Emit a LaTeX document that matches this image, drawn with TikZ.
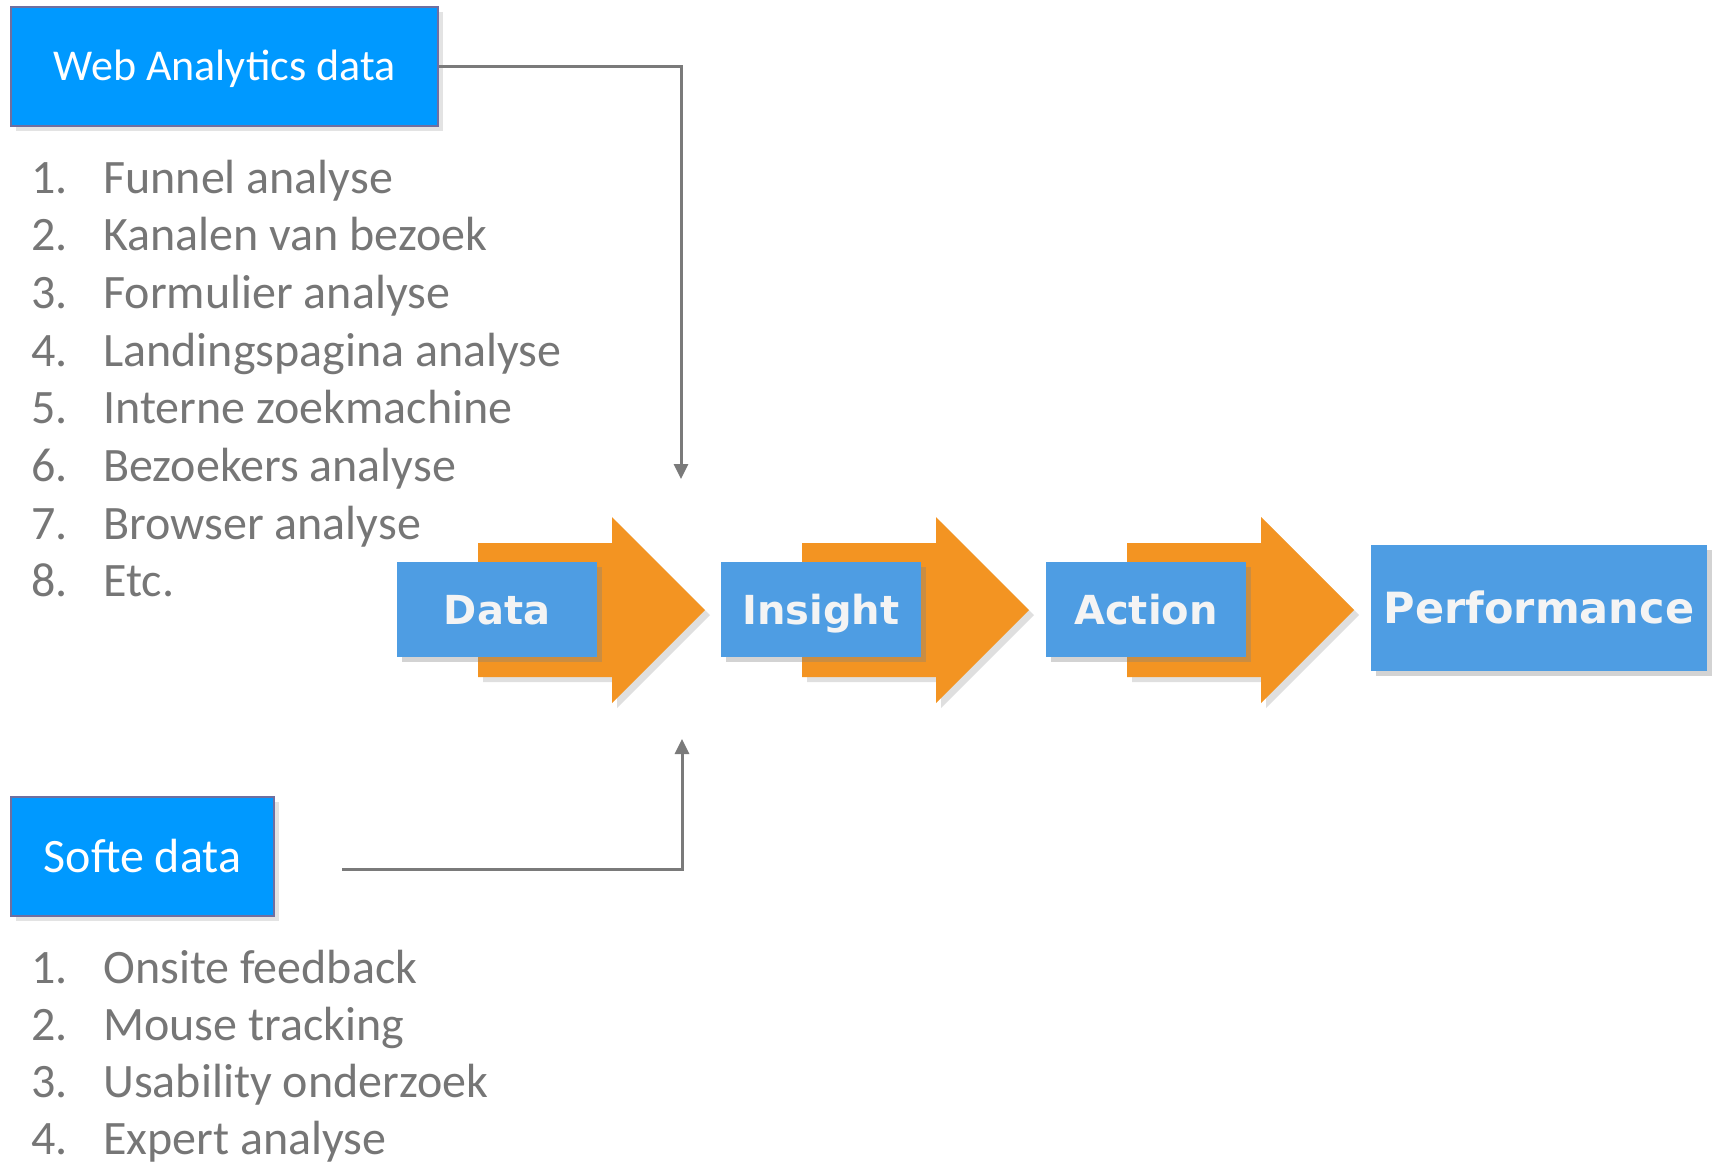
\documentclass[tikz,border=0pt]{standalone}
\usepackage{fontspec}
\setmainfont{Carlito}
\newfontfamily\procfont{DejaVu Sans}
\usetikzlibrary{shadows,arrows.meta}
\definecolor{hdrblue}{HTML}{0099FF}
\definecolor{hdrline}{HTML}{6F6FA0}
\definecolor{procblue}{HTML}{4E9DE3}
\definecolor{procorange}{HTML}{F39422}
\definecolor{txtgray}{HTML}{767676}
\definecolor{lnkgray}{HTML}{7A7A7A}
\definecolor{proctext}{HTML}{F4F4F4}
\begin{document}
\begin{tikzpicture}[x=0.5pt,y=-0.5pt,
  hdr/.style={draw=hdrline, line width=0.8pt, fill=hdrblue, text=white,
    inner sep=0pt, text depth=0pt,
    drop shadow={opacity=0.22, shadow xshift=2.5pt, shadow yshift=-2.5pt}},
  procbox/.style={fill=procblue, text=proctext, inner sep=0pt, text depth=0pt,
    drop shadow={opacity=0.35, shadow xshift=2.5pt, shadow yshift=-2.5pt}},
  procfnt/.style={font=\procfont\bfseries\fontsize{#1}{24}\selectfont},
  procarrow/.style={fill=procorange,
    drop shadow={opacity=0.25, shadow xshift=2.5pt, shadow yshift=-2.5pt}},
  item/.style={text=txtgray, font=\fontsize{24}{28}\selectfont, inner sep=0pt, anchor=base west},
  link/.style={draw=lnkgray, line width=1.5pt, -{Triangle[width=7pt,length=7.5pt]}}]
\useasboundingbox (0,0) rectangle (1714,1164);

% header boxes
\node[hdr, font=\fontsize{22}{26}\selectfont, text height=14.2pt, minimum width=213.5pt, minimum height=59.5pt] (wa) at (224.5,66.5) {Web Analytics data};
\node[hdr, font=\fontsize{24}{28}\selectfont, text height=15.5pt, minimum width=131.5pt, minimum height=59.5pt] (sd) at (142.5,856.5) {Softe data};

% lists
\foreach \t [count=\i] in {Funnel analyse, Kanalen van bezoek, Formulier analyse,
    Landingspagina analyse, Interne zoekmachine, Bezoekers analyse, Browser analyse, Etc.}{
  \node[item] (wanum\i) at (31,{193+57.7*(\i-1)}) {\i.};
  \node[item] (watxt\i) at (103,{193+57.7*(\i-1)}) {\t};
}
\foreach \t [count=\i] in {Onsite feedback, Mouse tracking, Usability onderzoek, Expert analyse}{
  \node[item] (sdnum\i) at (31,{983+57*(\i-1)}) {\i.};
  \node[item] (sdtxt\i) at (103,{983+57*(\i-1)}) {\t};
}

% process arrows
\foreach \L/\nm/\lab in {397/data/Data, 721/insight/Insight, 1046/action/Action}{
  \path[procarrow] (\L+81,543) -- (\L+215,543) -- (\L+215,517) -- (\L+308,610)
     -- (\L+215,703) -- (\L+215,677) -- (\L+81,677) -- cycle;
  \node[procbox, procfnt=20, text height=14.6pt, minimum width=100pt, minimum height=47.5pt] (\nm) at (\L+100,609.5) {\lab};
}
\node[procbox, procfnt=21.5, text height=15.7pt, minimum width=168pt, minimum height=63pt] (perf) at (1539,608) {Performance};

% connectors
\coordinate (waend) at (681,479);
\draw[link] (wa.east) -| (waend);
\coordinate (sdstart) at (342,869);
\coordinate (sdend) at (682,739);
\draw[link] (sdstart) -| (sdend);
\end{tikzpicture}
\end{document}
